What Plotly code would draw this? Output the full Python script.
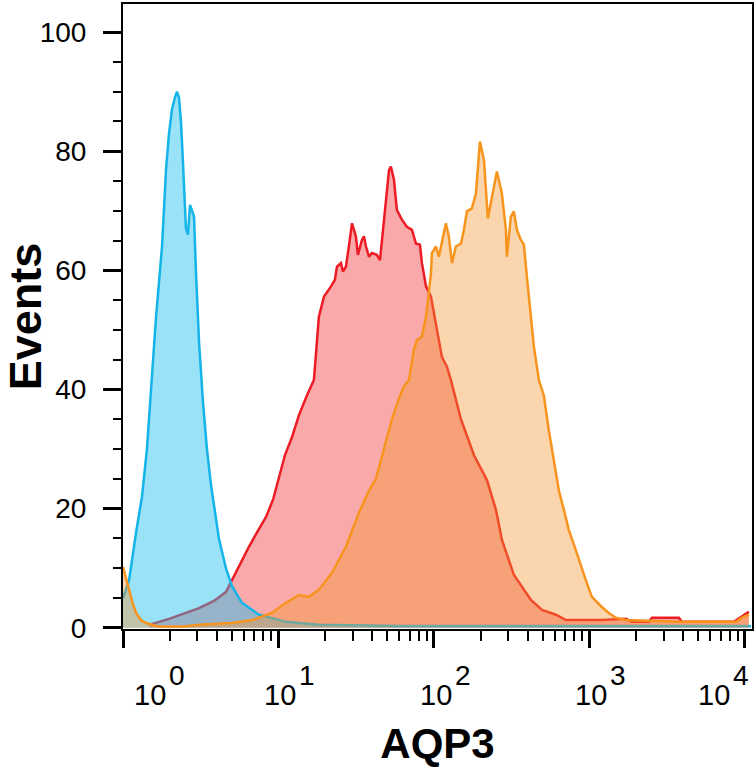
import numpy as np
import plotly.graph_objs as go

# histogram outlines; x values are log10(intensity)
cyan_log = [0.000, 0.039, 0.084, 0.122, 0.154, 0.180, 0.212, 0.251, 0.277, 0.296,
            0.315, 0.334, 0.347, 0.360, 0.373, 0.386, 0.405, 0.418, 0.431, 0.444,
            0.457, 0.469, 0.489, 0.514, 0.540, 0.566, 0.592, 0.617, 0.662, 0.701,
            0.765, 0.875, 1.048, 1.260, 1.775, 2.418, 3.061, 4.039]
cyan_events = [5, 8, 16, 22, 30, 40, 52, 64, 77, 83,
               87, 89, 90, 89, 85, 78, 67, 66, 71, 70,
               69, 60, 48, 38, 30, 24, 19, 15, 10, 7,
               4.2, 2.2, 1.0, 0.5, 0.3, 0.3, 0.3, 0.3]

red_log = [0.167, 0.296, 0.489, 0.585, 0.662, 0.701, 0.759, 0.810, 0.862, 0.920,
           0.965, 1.003, 1.042, 1.087, 1.132, 1.183, 1.228, 1.260, 1.293, 1.338,
           1.363, 1.376, 1.402, 1.415, 1.434, 1.453, 1.473, 1.498, 1.511, 1.537,
           1.550, 1.563, 1.582, 1.601, 1.633, 1.653, 1.666, 1.691, 1.711, 1.723,
           1.743, 1.762, 1.794, 1.826, 1.859, 1.884, 1.910, 1.923, 1.949, 1.981,
           2.019, 2.051, 2.084, 2.109, 2.174, 2.257, 2.341, 2.399, 2.437, 2.469,
           2.514, 2.579, 2.624, 2.695, 2.785, 2.849, 3.080, 3.235, 3.273, 3.383,
           3.402, 3.576, 3.595, 3.929, 3.981, 4.026]
red_events = [0.5, 1.5, 3.3, 4.5, 6, 8, 11, 13.6, 16, 18.6,
              21.5, 25, 29, 32, 35.7, 39, 41.6, 52.2, 55.6, 57.3,
              58.4, 60.6, 61.2, 59.8, 60.6, 64, 67.9, 65.7, 62.6, 65.1,
              65.7, 64, 62.3, 62.9, 62.6, 61.7, 65.1, 72.4, 76.8, 77.4,
              75.2, 70.1, 68.5, 67.3, 66.8, 64.5, 64.3, 61.2, 57.3, 55.6,
              50, 45.5, 43.8, 41.6, 35, 29, 24.8, 19.8, 14.8, 12.2,
              8.9, 6.4, 4.7, 3, 2.2, 1.3, 1.3, 1.5, 1, 1,
              1.7, 1.7, 1, 1, 1.9, 2.7]

orange_log = [0.000, 0.019, 0.039, 0.064, 0.084, 0.116, 0.148, 0.232, 0.379, 0.489,
              0.701, 0.830, 0.875, 0.958, 1.048, 1.132, 1.196, 1.260, 1.344, 1.434,
              1.518, 1.582, 1.627, 1.678, 1.730, 1.775, 1.807, 1.839, 1.871, 1.891,
              1.923, 1.949, 1.968, 1.981, 1.987, 2.013, 2.032, 2.051, 2.077, 2.096,
              2.116, 2.141, 2.174, 2.193, 2.212, 2.244, 2.270, 2.296, 2.322, 2.347,
              2.373, 2.405, 2.437, 2.463, 2.469, 2.495, 2.514, 2.534, 2.559, 2.579,
              2.598, 2.624, 2.643, 2.675, 2.707, 2.740, 2.772, 2.804, 2.836, 2.868,
              2.900, 2.932, 2.977, 3.016, 3.080, 3.125, 3.170, 3.235, 3.576, 3.942,
              3.981, 4.026]
orange_events = [10.2, 8.5, 6.4, 4, 2.5, 1.3, 0.8, 0.2, 0.2, 0.5,
                 0.8, 1.3, 1.7, 2.5, 4.2, 5.5, 5.2, 6.4, 9.2, 13.6,
                 19.3, 23, 25, 30, 35, 38.5, 40.5, 41.6, 46.6, 48.3,
                 48.9, 52.2, 56.7, 59.5, 62.9, 64, 62.3, 64.5, 67.9, 65.7,
                 61.2, 64, 64.5, 66.8, 69.9, 70.4, 72.9, 81.6, 78.5, 68.7,
                 72.4, 76.6, 72.9, 66.8, 62.3, 69, 69.9, 66.8, 65.1, 64.3,
                 58.9, 52.2, 47.2, 41.6, 39, 33, 28, 23, 19.8, 16.4,
                 14, 11.4, 8, 5.2, 3.5, 2.5, 1.7, 1.3, 1, 1,
                 1.7, 2.2]

decades = [0, 1, 2, 3, 4]
y_ticks = [0, 20, 40, 60, 80, 100]
minor_x = [m * 10 ** d for d in range(4) for m in range(2, 10)]

FONT = "Liberation Sans, Arial, sans-serif"

fig = go.Figure()

# drawing order red, cyan, orange gives the overlap colours of the original
fig.add_trace(go.Scatter(x=10 ** np.array(red_log), y=red_events, mode="lines",
                         fill="tozeroy", fillcolor="rgba(240,40,40,0.4)",
                         line={"color": "#ED1C24", "width": 2.5}, name="AQP3 1"))
fig.add_trace(go.Scatter(x=10 ** np.array(cyan_log), y=cyan_events, mode="lines",
                         fill="tozeroy", fillcolor="rgba(30,190,240,0.45)",
                         line={"color": "#14B4E8", "width": 2.5}, name="Isotype"))
fig.add_trace(go.Scatter(x=10 ** np.array(orange_log), y=orange_events, mode="lines",
                         fill="tozeroy", fillcolor="rgba(245,150,50,0.4)",
                         line={"color": "#F7941D", "width": 2.5}, name="AQP3 2"))

# x tick labels as 10 + raised exponent
label_shift = {0: 27, 1: 2, 2: 2, 3: 2, 4: -31}
annotations = []
for d in decades:
    annotations.append(dict(x=d, y=0, xref="x", yref="paper", text="10",
                            showarrow=False, xanchor="center", yanchor="middle",
                            xshift=label_shift[d], yshift=-66,
                            font={"family": FONT, "size": 29, "color": "black"}))
    annotations.append(dict(x=d, y=0, xref="x", yref="paper", text=str(d),
                            showarrow=False, xanchor="center", yanchor="middle",
                            xshift=label_shift[d] + 27, yshift=-46,
                            font={"family": FONT, "size": 28, "color": "black"}))

layout = go.Layout(
    width=754, height=767,
    margin={"l": 123, "r": 2, "t": 4, "b": 138},
    paper_bgcolor="white", plot_bgcolor="white",
    showlegend=False,
    font={"family": FONT, "color": "black"},
    xaxis={"type": "log", "range": [0, 4.046], "automargin": False,
           "showgrid": False, "zeroline": False,
           "showline": True, "linecolor": "black", "linewidth": 2, "mirror": True,
           "tickvals": [10 ** d for d in decades], "showticklabels": False,
           "ticks": "outside", "ticklen": 17, "tickwidth": 3, "tickcolor": "black",
           "minor": {"tickmode": "array", "tickvals": minor_x, "ticks": "outside",
                     "ticklen": 10, "tickwidth": 2, "tickcolor": "black"},
           "title": {"text": "AQP3", "standoff": 88,
                     "font": {"family": FONT, "size": 42, "weight": "bold"}}},
    yaxis={"range": [-0.2, 104.7], "automargin": False,
           "showgrid": False, "zeroline": False,
           "showline": True, "linecolor": "black", "linewidth": 2, "mirror": True,
           "tickvals": y_ticks, "ticks": "outside", "ticklen": 18, "tickwidth": 3,
           "tickcolor": "black", "ticklabelstandoff": 11,
           "tickfont": {"family": FONT, "size": 28},
           "minor": {"dtick": 5, "ticks": "outside", "ticklen": 8, "tickwidth": 2,
                     "tickcolor": "black"},
           "title": {"text": "Events", "standoff": 24,
                     "font": {"family": FONT, "size": 45, "weight": "bold"}}},
    annotations=annotations,
)
fig.update_layout(layout)

# the page body has a default 8px margin; drop it so the figure fills the window
fig.write_html("out.html", config={"displayModeBar": False},
               post_script="document.body.style.margin = '0px';")
